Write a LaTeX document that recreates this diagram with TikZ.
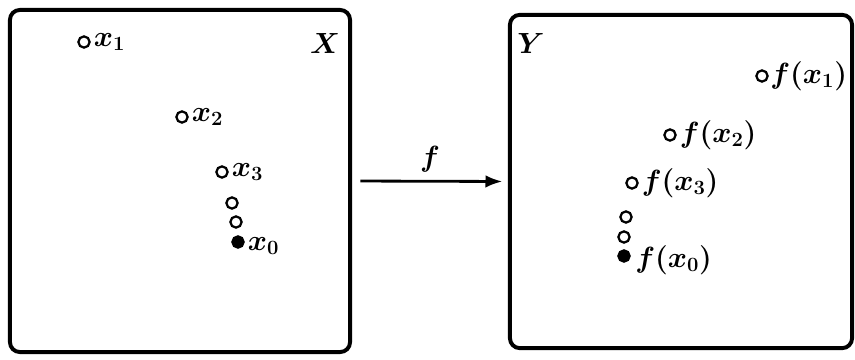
\documentclass[tikz,border=0pt]{standalone}
\usetikzlibrary{arrows.meta,positioning}

\begin{document}
\begin{tikzpicture}[
  x=0.025cm, y=-0.025cm,
  >=Latex,
  every node/.style={font=\huge\boldmath},
  setbox/.style={draw, line width=2.8pt, rounded corners=7pt},
  pt/.style={circle, draw, line width=1.6pt, inner sep=0pt, minimum size=8pt},
  fpt/.style={pt, fill=black},
  lab/.style={inner sep=1pt},
]
  \useasboundingbox (0,0) rectangle (855,360);

  % Domain and codomain
  \node[setbox, minimum width=8.5cm, minimum height=8.55cm] (X) at (180,181) {};
  \node[setbox, minimum width=8.55cm, minimum height=8.33cm] (Y) at (681,181.5) {};
  \node (nX) at (325,43) {$X$};
  \node (nY) at (531,43) {$Y$};

  % Points of X
  \node[pt] (x1) at (84,42) {};
  \node[lab, right=1pt of x1] (lx1) {$x_1$};
  \node[pt] (x2) at (182,117) {};
  \node[lab, right=1pt of x2] (lx2) {$x_2$};
  \node[pt] (x3) at (222,172) {};
  \node[lab, right=1pt of x3] (lx3) {$x_3$};
  \node[pt] (xa) at (232,203) {};
  \node[pt] (xb) at (236,222) {};
  \node[fpt] (x0) at (238,242) {};
  \node[lab, right=1pt of x0, yshift=-3pt] (lx0) {$x_0$};

  % Images in Y
  \node[pt] (y1) at (762,76) {};
  \node[lab, right=0pt of y1] (ly1) {$f(x_1)$};
  \node[pt] (y2) at (670,135) {};
  \node[lab, right=1pt of y2] (ly2) {$f(x_2)$};
  \node[pt] (y3) at (632,183) {};
  \node[lab, right=1pt of y3] (ly3) {$f(x_3)$};
  \node[pt] (ya) at (626,217) {};
  \node[pt] (yb) at (624,237) {};
  \node[fpt] (y0) at (624,256) {};
  \node[lab, right=2pt of y0, yshift=-3pt] (ly0) {$f(x_0)$};

  % The map
  \draw[->, line width=2pt, shorten <=6pt, shorten >=4pt] (X.east) -- node[above=2pt] (nf) {$f$} (Y.west);
\end{tikzpicture}
\end{document}
